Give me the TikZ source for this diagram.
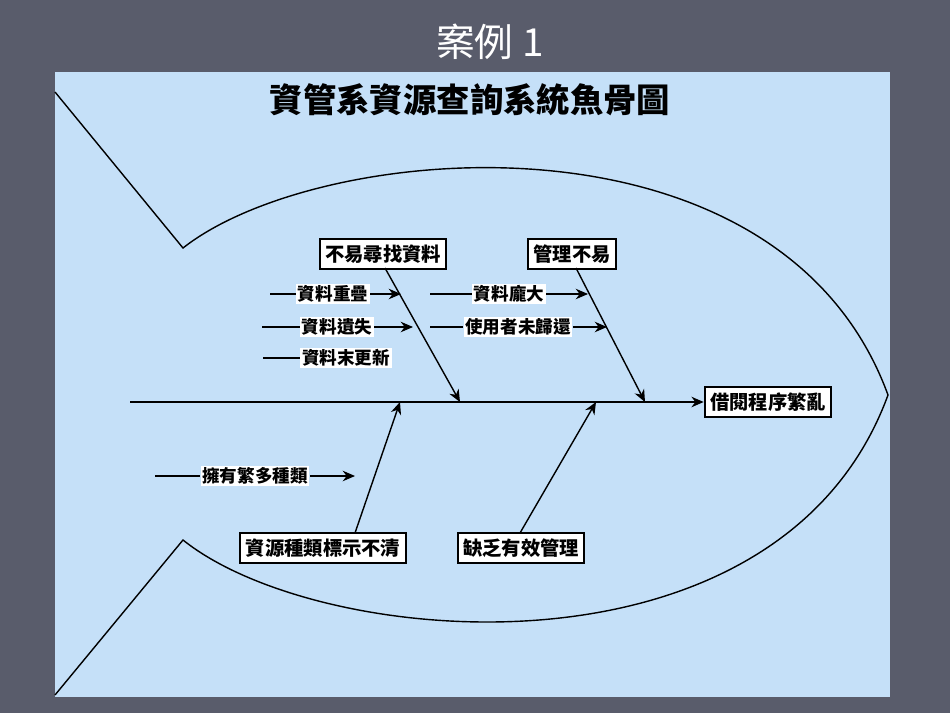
\documentclass[tikz,border=0pt]{standalone}
\usepackage{fontspec}
\newfontfamily\cjk{Noto Sans CJK TC}
\usetikzlibrary{positioning,arrows.meta}
\definecolor{slidebg}{HTML}{595C6B}
\definecolor{panel}{HTML}{C5E0F8}
\begin{document}
\begin{tikzpicture}[x=0.02cm,y=-0.02cm,font=\cjk]
  \tikzstyle{arrow} = [thick,-{Stealth[length=7pt,width=6pt]}]
  \tikzset{cause/.style = {rectangle, draw, very thick, fill=white, font=\cjk\bfseries\fontsize{11}{13}\selectfont, inner sep=3pt, minimum height=1.7em}, }
  \tikzset{sub/.style = {fill=white, font=\cjk\bfseries\fontsize{10}{12}\selectfont, inner sep=1pt}, }
  \fill[slidebg] (0,0) rectangle (950,713);
  \fill[panel] (55,72) rectangle (890,697);
  \node[white, font=\cjk\fontsize{22}{26}\selectfont] (slide) at (490,42) {案例 1};
  \node[font=\cjk\bfseries\fontsize{19}{22}\selectfont] (title) at (470,100) {資管系資源查詢系統魚骨圖};
  % fish outline
  \draw[thick] (55,92) -- (183,248) .. controls (320,140) and (780,100) .. (888,395)
    .. controls (780,690) and (320,650) .. (183,540) -- (55,695);
  % spine and effect
  \node[cause] (effect) at (768,402) {借閱程序繁亂};
  \coordinate (tailend) at (130,402);
  \draw[arrow] (tailend) -- (effect);
  % causes
  \node[cause] (find) at (383,254) {不易尋找資料};
  \node[cause] (manage) at (572,254) {管理不易};
  \node[cause] (label) at (323,548) {資源種類標示不清};
  \node[cause] (lack) at (521,548) {缺乏有效管理};
  \coordinate (j1) at (460,402);
  \coordinate (j2) at (645,402);
  \coordinate (j3) at (400,402);
  \coordinate (j4) at (596,402);
  \draw[arrow] (find.south) ++(0,0) coordinate (f0) (385,268) -- (j1);
  \draw[arrow] (576,268) -- (j2);
  \draw[arrow] (355,533) -- (j3);
  \draw[arrow] (520,533) -- (j4);
  % sub causes
  \node[sub] (s1) at (333,294) {資料重疊};
  \node[sub] (s2) at (337,327) {資料遺失};
  \node[sub] (s3) at (346,358) {資料末更新};
  \node[sub] (s4) at (509,294) {資料龐大};
  \node[sub] (s5) at (518,327) {使用者未歸還};
  \node[sub] (s6) at (255,476) {擁有繁多種類};
  \coordinate (a1) at (270,294); \coordinate (b1) at (401,294);
  \coordinate (a2) at (262,327); \coordinate (b2) at (413,327);
  \coordinate (a3) at (263,358);
  \coordinate (a4) at (430,294); \coordinate (b4) at (588,294);
  \coordinate (a5) at (430,327); \coordinate (b5) at (607,327);
  \coordinate (a6) at (155,476); \coordinate (b6) at (355,476);
  \draw[thick] (a1) -- (s1); \draw[arrow] (s1) -- (b1);
  \draw[thick] (a2) -- (s2); \draw[arrow] (s2) -- (b2);
  \draw[thick] (a3) -- (s3);
  \draw[thick] (a4) -- (s4); \draw[arrow] (s4) -- (b4);
  \draw[thick] (a5) -- (s5); \draw[arrow] (s5) -- (b5);
  \draw[thick] (a6) -- (s6); \draw[arrow] (s6) -- (b6);
\end{tikzpicture}
\end{document}
